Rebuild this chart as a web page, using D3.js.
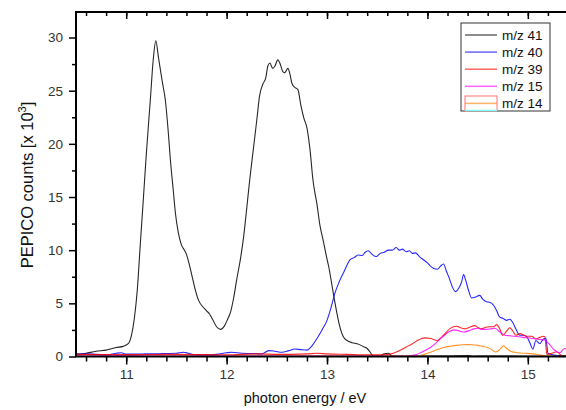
<!DOCTYPE html>
<html>
<head>
<meta charset="utf-8">
<script src="https://cdn.jsdelivr.net/npm/d3@7"></script>
<style>
  body { margin: 0; background: #fff; }
  svg { display: block; font-family: "Liberation Sans", Arial, sans-serif; }
</style>
</head>
<body>
<script>

// photon energy (eV) / counts (x 10^3)
const mz41 = [
  [10.5,0.15],[10.6,0.3],[10.7,0.5],[10.8,0.6],[10.9,0.85],[10.97,0.95],[11.02,1.2],[11.05,1.9],
  [11.08,3.5],[11.11,6.2],[11.14,10.5],[11.17,14.7],[11.2,19],[11.24,24.1],[11.27,28],[11.295,29.7],
  [11.32,28.2],[11.36,25.8],[11.39,24.1],[11.42,21],[11.44,18.5],[11.47,15.5],[11.49,13.5],[11.52,11.6],
  [11.55,10.5],[11.58,10.0],[11.6,9.6],[11.63,8.6],[11.65,7.8],[11.69,6.2],[11.72,5.3],[11.76,4.7],
  [11.8,4.3],[11.83,4.0],[11.86,3.5],[11.9,2.8],[11.94,2.55],[11.98,2.9],[12.01,3.5],[12.04,4.2],
  [12.07,5.5],[12.1,7.2],[12.14,9.3],[12.17,11.3],[12.2,13.9],[12.23,16.6],[12.27,19.8],[12.3,22.2],
  [12.33,24.6],[12.36,25.6],[12.39,26.2],[12.41,27.3],[12.43,27.6],[12.46,27.1],[12.48,27.3],[12.51,27.9],
  [12.53,27.6],[12.56,26.8],[12.58,26.7],[12.61,27.1],[12.63,26.6],[12.65,25.7],[12.68,25.3],[12.71,25.1],
  [12.74,23.6],[12.77,22.4],[12.8,21.5],[12.83,19.5],[12.86,16.6],[12.9,14.3],[12.93,12.3],[12.96,11],
  [12.99,9.6],[13.02,8.3],[13.06,6.1],[13.09,4.5],[13.12,3.1],[13.16,1.9],[13.2,1.5],[13.25,1.3],
  [13.3,1.2],[13.36,0.95],[13.4,0.75],[13.43,0.4],[13.46,0.05],[13.52,0.05],[13.57,0.25],[13.61,0.3],
  [13.65,0.05],[13.8,0.03],[14.2,0.05],[14.4,0.1],[14.45,0.02],[14.6,0.05],[15.0,0.02],[15.4,0.02]
];

const mz40 = [
  [10.5,0.25],[10.6,0.25],[10.7,0.2],[10.8,0.15],[10.9,0.3],[10.95,0.35],[11.0,0.22],[11.1,0.22],
  [11.2,0.25],[11.3,0.25],[11.4,0.28],[11.5,0.3],[11.57,0.4],[11.62,0.3],[11.7,0.15],[11.8,0.15],
  [11.9,0.2],[12.0,0.35],[12.05,0.4],[12.15,0.3],[12.25,0.28],[12.35,0.25],[12.42,0.55],[12.48,0.5],
  [12.55,0.4],[12.62,0.55],[12.68,0.7],[12.74,0.65],[12.8,0.6],[12.85,1.0],[12.9,1.7],[12.95,2.5],
  [13.0,3.4],[13.04,4.6],[13.08,6.0],[13.12,7.0],[13.16,7.8],[13.2,8.6],[13.23,9.1],[13.27,9.3],
  [13.31,9.55],[13.35,9.5],[13.38,9.8],[13.41,9.95],[13.45,9.6],[13.49,9.4],[13.53,9.7],[13.57,9.8],
  [13.61,10.0],[13.65,10.0],[13.69,10.25],[13.72,10.0],[13.75,10.1],[13.79,9.85],[13.82,9.95],[13.85,9.7],
  [13.88,9.75],[13.92,9.4],[13.96,9.1],[14.0,8.8],[14.03,8.5],[14.06,8.3],[14.1,8.2],[14.13,8.5],
  [14.16,8.7],[14.19,8.0],[14.22,7.3],[14.25,6.5],[14.28,6.1],[14.31,6.4],[14.34,7.0],[14.36,7.7],
  [14.38,7.2],[14.41,6.2],[14.44,5.5],[14.48,5.6],[14.52,5.75],[14.55,5.4],[14.59,5.15],[14.62,5.1],
  [14.66,4.8],[14.69,4.3],[14.72,3.7],[14.75,3.6],[14.79,3.4],[14.82,3.5],[14.85,3.2],[14.88,2.6],
  [14.92,2.0],[14.96,2.0],[14.99,1.85],[15.02,1.3],[15.05,0.7],[15.08,1.5],[15.12,1.2],[15.15,1.6],
  [15.18,1.7],[15.2,0.3],[15.25,0.15],[15.3,0.1],[15.4,0.1]
];

const mz39 = [
  [10.5,0.2],[11.0,0.18],[11.5,0.2],[12.0,0.15],[12.3,0.25],[12.5,0.2],[12.8,0.25],[12.9,0.3],
  [13.0,0.25],[13.2,0.2],[13.4,0.15],[13.55,0.15],[13.66,0.3],[13.72,0.55],[13.79,0.9],[13.85,1.2],
  [13.91,1.55],[13.97,1.75],[14.03,1.7],[14.1,1.5],[14.16,2.0],[14.22,2.6],[14.26,2.8],[14.29,2.85],
  [14.33,2.7],[14.37,2.6],[14.42,2.75],[14.47,2.9],[14.51,2.7],[14.54,2.6],[14.58,2.75],[14.62,2.8],
  [14.66,2.8],[14.69,3.0],[14.72,2.6],[14.75,2.0],[14.79,2.4],[14.82,2.7],[14.85,2.4],[14.88,2.0],
  [14.92,2.15],[14.96,2.0],[14.99,1.9],[15.04,1.9],[15.08,1.65],[15.12,1.8],[15.15,1.9],[15.17,1.85],
  [15.19,0.2],[15.24,0.3],[15.29,0.45],[15.32,0.2],[15.35,0.05],[15.4,0.05]
];

const mz15 = [
  [10.5,0.05],[11.0,0.1],[11.3,0.05],[12.0,0.05],[13.0,0.05],[13.8,0.05],[13.88,0.15],[13.95,0.45],
  [14.03,0.85],[14.09,1.3],[14.13,1.7],[14.17,2.0],[14.21,2.3],[14.27,2.5],[14.32,2.4],[14.36,2.3],
  [14.42,2.45],[14.46,2.6],[14.5,2.65],[14.54,2.55],[14.58,2.55],[14.63,2.6],[14.67,2.65],[14.71,2.4],
  [14.77,2.0],[14.82,1.95],[14.87,1.9],[14.95,1.8],[15.0,1.75],[15.05,1.7],[15.12,1.6],[15.17,1.55],
  [15.21,1.2],[15.25,0.75],[15.29,0.45],[15.32,0.35],[15.35,0.65],[15.37,0.75],[15.4,0.6]
];

const mz14 = [
  [10.5,0.02],[13.8,0.02],[13.9,0.05],[13.97,0.2],[14.03,0.4],[14.1,0.65],[14.16,0.85],[14.22,0.95],
  [14.29,1.05],[14.35,1.1],[14.4,1.12],[14.45,1.1],[14.5,1.05],[14.55,0.95],[14.6,0.85],[14.64,0.65],
  [14.68,0.42],[14.72,0.65],[14.76,1.0],[14.79,0.75],[14.83,0.5],[14.88,0.38],[14.92,0.33],[14.98,0.3],
  [15.05,0.25],[15.12,0.15],[15.18,0.05],[15.25,0.02],[15.4,0.02]
];

const seriesNames = ['m/z 41', 'm/z 40', 'm/z 39', 'm/z 15', 'm/z 14'];
const seriesColors = ['#000000', '#0000ff', '#ff0000', '#ff00ff', '#ff8000'];
const xTicks = [11, 12, 13, 14, 15];
const yTicks = [0, 5, 10, 15, 20, 25, 30];

const series = [mz41, mz40, mz39, mz15, mz14];

const width = 566, height = 410;
const margin = { top: 12, right: -2, bottom: 53.5, left: 76 };
const innerW = width - margin.left - margin.right;
const innerH = height - margin.top - margin.bottom;

const svg = d3.select('body').append('svg')
  .attr('width', width)
  .attr('height', height);

const x = d3.scaleLinear().domain([10.5, 15.4]).range([0, innerW]);
const y = d3.scaleLinear().domain([0, 32.4]).range([innerH, 0]);

const plot = svg.append('g')
  .attr('transform', `translate(${margin.left},${margin.top})`);

svg.append('clipPath').attr('id', 'clip')
  .append('rect').attr('width', innerW).attr('height', innerH + 1);

// lines
const line = d3.line()
  .x(d => x(d[0]))
  .y(d => y(d[1]))
  .curve(d3.curveMonotoneX);

plot.append('g').attr('clip-path', 'url(#clip)')
  .selectAll('path')
  .data(series)
  .join('path')
    .attr('d', line)
    .attr('fill', 'none')
    .attr('stroke', (d, i) => seriesColors[i])
    .attr('stroke-width', 1.1)
    .attr('opacity', 0.85);

// axes
const xMinor = d3.range(10.6, 15.41, 0.2).map(v => +v.toFixed(1));
const yMinor = d3.range(2.5, 32.4, 5);

plot.append('g').attr('transform', `translate(0,${innerH})`)
  .call(d3.axisBottom(x).tickValues(xMinor).tickSize(5).tickFormat(''));
plot.append('g').attr('transform', `translate(0,${innerH})`)
  .call(d3.axisBottom(x).tickValues(xTicks).tickSize(8).tickPadding(5).tickFormat(d3.format('d')));

plot.append('g')
  .call(d3.axisBottom(x).tickValues(xMinor).tickSize(4).tickFormat(''));
plot.append('g')
  .call(d3.axisBottom(x).tickValues(xTicks).tickSize(7).tickFormat(''));

plot.append('g')
  .call(d3.axisLeft(y).tickValues(yMinor).tickSize(4).tickFormat(''));
plot.append('g')
  .call(d3.axisLeft(y).tickValues(yTicks).tickSize(7).tickPadding(6).tickFormat(d3.format('d')));

plot.selectAll('.tick line').attr('stroke', '#000').attr('stroke-width', 1.5);
plot.selectAll('.tick text')
  .attr('fill', '#333')
  .style('font-size', '13.5px');
plot.selectAll('.domain').remove();

// frame
plot.append('path')
  .attr('d', `M0,${innerH}V0H${innerW}`)
  .attr('fill', 'none').attr('stroke', '#000').attr('stroke-width', 2);
plot.append('line')
  .attr('x1', -1).attr('x2', innerW).attr('y1', innerH).attr('y2', innerH)
  .attr('stroke', '#000').attr('stroke-width', 2);

// axis titles
svg.append('text')
  .attr('x', 305).attr('y', 403)
  .attr('text-anchor', 'middle')
  .style('font-size', '14.5px')
  .attr('fill', '#111')
  .text('photon energy / eV');

const yTitle = svg.append('text')
  .attr('transform', `translate(33,185) rotate(-90)`)
  .attr('text-anchor', 'middle')
  .style('font-size', '16.5px')
  .attr('fill', '#111');
yTitle.append('tspan').text('PEPICO counts [x 10');
yTitle.append('tspan').attr('dy', -7).style('font-size', '11px').text('3');
yTitle.append('tspan').attr('dy', 7).text(']');

// legend
const legend = svg.append('g').attr('transform', 'translate(461,23)');
legend.append('rect')
  .attr('width', 89).attr('height', 88)
  .attr('fill', '#fff').attr('stroke', '#333').attr('stroke-width', 1);

const rows = legend.selectAll('.row')
  .data(seriesNames)
  .join('g')
    .attr('class', 'row')
    .attr('transform', (d, i) => `translate(0,${12 + i * 17.1})`);

rows.append('line')
  .attr('x1', 4).attr('x2', 36)
  .attr('stroke', (d, i) => seriesColors[i])
  .attr('stroke-width', 1.5)
  .attr('opacity', 0.6);

rows.append('text')
  .attr('x', 41).attr('y', 5)
  .style('font-size', '13.5px')
  .attr('fill', '#111')
  .text(d => d);

// odd marker box around the last legend entry
legend.append('rect')
  .attr('x', 4).attr('y', 73).attr('width', 32).attr('height', 15)
  .attr('fill', 'none').attr('stroke', '#ff7070').attr('stroke-width', 1);
legend.append('line')
  .attr('x1', 4).attr('x2', 36).attr('y1', 87.5).attr('y2', 87.5)
  .attr('stroke', '#7ff').attr('stroke-width', 1.5);

</script>
</body>
</html>
